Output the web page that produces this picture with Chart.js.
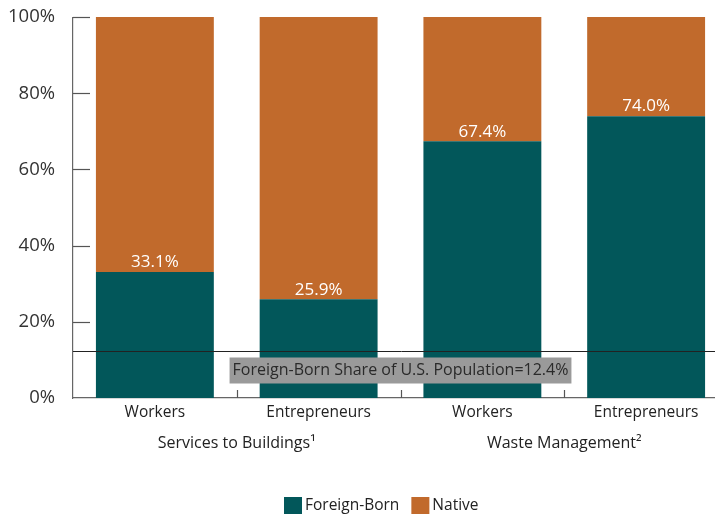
<!DOCTYPE html>
<html>
<head>
<meta charset="utf-8">
<script src="https://cdn.jsdelivr.net/npm/chart.js@4/dist/chart.umd.min.js"></script>
<style>
  html, body { margin: 0; padding: 0; background: #fff; overflow: hidden; }
  #wrap { width: 730px; height: 515px; overflow: hidden; }
  #chart { display: block; margin-top: -4px; }
</style>
</head>
<body>
<div id="wrap"><canvas id="chart" width="730" height="519"></canvas></div>
<script>
// Data
const categories = ['Workers', 'Entrepreneurs', 'Workers', 'Entrepreneurs'];
const groups = ['Services to Buildings\u00b9', 'Waste Management\u00b2'];
const foreignBorn = [33.1, 25.9, 67.4, 74.0];
const native = [66.9, 74.1, 32.6, 26.0];
const yTicks = [0, 20, 40, 60, 80, 100];
const populationShare = 12.4;

const TEAL = '#02575A';
const ORANGE = '#C16A2C';
const FONT = '"Open Sans", Lato, sans-serif';
const SHIFT = 4; // canvas is pulled up by this much

// Inward tick marks, group labels, reference line, value labels, legend
const extrasPlugin = {
    id: 'extras',
    afterDatasetsDraw(chart) {
        const ctx = chart.ctx;
        const area = chart.chartArea;
        const x = chart.scales.x;
        const y = chart.scales.y;
        ctx.save();

        // y ticks pointing into the plot
        ctx.strokeStyle = '#555';
        ctx.lineWidth = 1.2;
        yTicks.forEach(v => {
            if (v === 0) return;
            const py = Math.round(y.getPixelForValue(v)) + 0.5;
            ctx.beginPath();
            ctx.moveTo(area.left, py);
            ctx.lineTo(area.left + 17, py);
            ctx.stroke();
        });

        // x ticks between categories
        for (let i = 1; i < categories.length; i++) {
            const px = Math.round((x.getPixelForValue(i - 1) + x.getPixelForValue(i)) / 2) + 0.5;
            ctx.beginPath();
            ctx.moveTo(px, area.bottom);
            ctx.lineTo(px, area.bottom - 8);
            ctx.stroke();
        }

        // value labels
        const meta = chart.getDatasetMeta(0);
        ctx.fillStyle = '#fff';
        ctx.font = '17px ' + FONT;
        ctx.textAlign = 'center';
        ctx.textBaseline = 'bottom';
        meta.data.forEach((bar, i) => {
            ctx.fillText(foreignBorn[i].toFixed(1) + '%', bar.x, bar.y - 1);
        });

        // reference line
        const ly = Math.round(y.getPixelForValue(populationShare)) + 0.5;
        ctx.strokeStyle = '#222';
        ctx.lineWidth = 1;
        ctx.beginPath();
        ctx.moveTo(area.left, ly);
        ctx.lineTo(chart.width, ly);
        ctx.stroke();

        const label = 'Foreign-Born Share of U.S. Population=12.4%';
        ctx.font = '16px ' + FONT;
        const tw = ctx.measureText(label).width;
        const cx = (x.getPixelForValue(1) + x.getPixelForValue(2)) / 2;
        ctx.fillStyle = '#9a9a9a';
        ctx.fillRect(cx - tw / 2 - 3, ly + 6, tw + 6, 26);
        ctx.fillStyle = '#2a2a2a';
        ctx.textBaseline = 'middle';
        ctx.fillText(label, cx, ly + 19);

        // group labels
        ctx.font = '16px ' + FONT;
        ctx.fillStyle = '#222';
        groups.forEach((g, gi) => {
            const gx = (x.getPixelForValue(gi * 2) + x.getPixelForValue(gi * 2 + 1)) / 2;
            ctx.fillText(g, gx, 443 + SHIFT);
        });

        // legend
        const items = [
            { text: 'Foreign-Born', color: TEAL },
            { text: 'Native', color: ORANGE }
        ];
        ctx.font = '15.5px ' + FONT;
        ctx.textAlign = 'left';
        let lx = 284;
        items.forEach(item => {
            ctx.fillStyle = item.color;
            ctx.fillRect(lx, 497 + SHIFT, 18, 17);
            ctx.fillStyle = '#222';
            ctx.fillText(item.text, lx + 21, 506 + SHIFT);
            lx += 21 + ctx.measureText(item.text).width + 12;
        });

        ctx.restore();
    }
};

new Chart(document.getElementById('chart'), {
    type: 'bar',
    data: {
        labels: categories,
        datasets: [
            { label: 'Foreign-Born', data: foreignBorn, backgroundColor: TEAL },
            { label: 'Native', data: native, backgroundColor: ORANGE }
        ]
    },
    options: {
        responsive: false,
        animation: false,
        layout: { padding: { top: 8, left: 0, right: 2, bottom: 0 } },
        plugins: {
            legend: { display: false },
            tooltip: { enabled: false }
        },
        datasets: {
            bar: { barPercentage: 0.72, categoryPercentage: 1.0 }
        },
        scales: {
            x: {
                stacked: true,
                afterFit: s => { s.height = 117; },
                grid: { display: false },
                border: { display: true, color: '#666', width: 1.2 },
                ticks: {
                    color: '#222',
                    padding: -3,
                    font: { family: FONT, size: 15.5 }
                }
            },
            y: {
                stacked: true,
                min: 0,
                max: 100,
                afterFit: s => { s.width = 73; },
                afterBuildTicks: s => { s.ticks = yTicks.map(v => ({ value: v })); },
                grid: { display: false },
                border: { display: true, color: '#666', width: 1.2 },
                ticks: {
                    color: '#333',
                    padding: 10,
                    font: { family: FONT, size: 18.5 },
                    callback: v => v + '%'
                }
            }
        }
    },
    plugins: [extrasPlugin]
});
</script>
</body>
</html>
